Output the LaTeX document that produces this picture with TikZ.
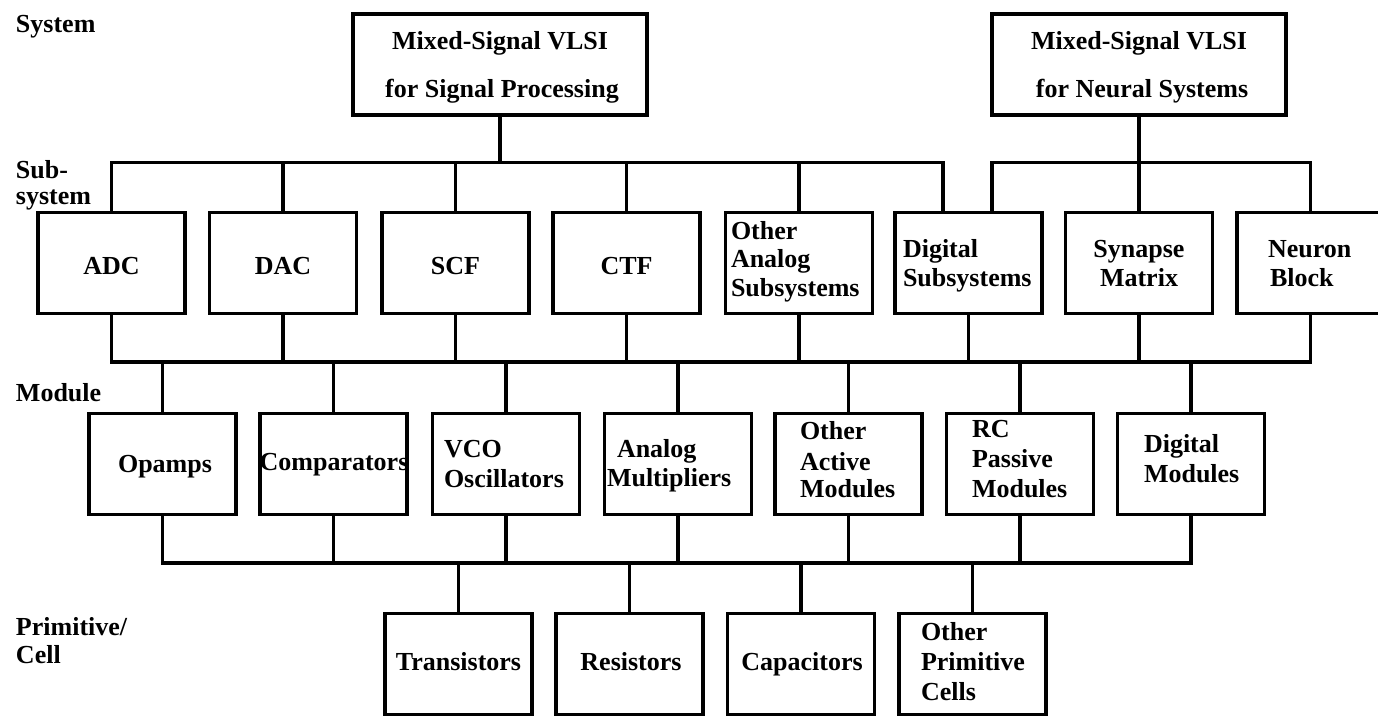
\documentclass[tikz,border=0pt]{standalone}
\usepackage{fontspec}
\setmainfont{Liberation Serif}
\begin{document}
\begin{tikzpicture}[x=0.75pt,y=-0.75pt,
  every node/.style={font=\fontsize{19.5}{21.75}\selectfont\bfseries, inner sep=0pt, outer sep=0pt},
  blk/.style={draw, line width=2.8pt, minimum width=110.25pt, minimum height=75.75pt},
  topblk/.style={blk, minimum width=221pt},
  wire/.style={line width=2.8pt},
  txt/.style={anchor=base west, align=left},
  ctxt/.style={anchor=base, align=center}]
\useasboundingbox (0,0) rectangle (1378,723);

% level names
\node[txt] (lsys) at (16,33) {System};
\node[txt] (lsub1) at (16,179) {Sub-};
\node[txt] (lsub2) at (16,205) {system};
\node[txt] (lmod) at (16,402) {Module};
\node[txt] (lprim1) at (16,635) {Primitive/};
\node[txt] (lprim2) at (16,663) {Cell};

% system level
\node[topblk] (sp) at (500,64.5) {};
\node[ctxt] (spa) at (500,50) {Mixed-Signal VLSI};
\node[ctxt] (spb) at (502,98) {for Signal Processing};
\node[topblk] (ns) at (1139,64.5) {};
\node[ctxt] (nsa) at (1139,50) {Mixed-Signal VLSI};
\node[ctxt] (nsb) at (1142,98) {for Neural Systems};

% subsystem level
\node[blk] (adc) at (111.5,263) {};
\node[blk] (dac) at (283,263) {};
\node[blk] (scf) at (455.5,263) {};
\node[blk] (ctf) at (626.5,263) {};
\node[blk] (oas) at (799,263) {};
\node[blk] (dsub) at (968.5,263) {};
\node[blk] (syn) at (1139,263) {};
\node[blk] (neu) at (1310.5,263) {};
\node[ctxt] (adcT) at (111.5,275) {ADC};
\node[ctxt] (dacT) at (283,275) {DAC};
\node[ctxt] (scfT) at (455.5,275) {SCF};
\node[ctxt] (ctfT) at (626.5,275) {CTF};
\node[txt] (oasT1) at (731,240) {Other};
\node[txt] (oasT2) at (731,268) {Analog};
\node[txt] (oasT3) at (731,297) {Subsystems};
\node[txt] (dsubT1) at (903,258) {Digital};
\node[txt] (dsubT2) at (903,287) {Subsystems};
\node[ctxt] (synT1) at (1139,258) {Synapse};
\node[ctxt] (synT2) at (1139,287) {Matrix};
\node[txt] (neuT1) at (1268,258) {Neuron};
\node[txt] (neuT2) at (1270,287) {Block};

% module level
\node[blk] (opa) at (162.5,464) {};
\node[blk] (cmp) at (333.5,464) {};
\node[blk] (vco) at (506,464) {};
\node[blk] (amu) at (678,464) {};
\node[blk] (oam) at (848.5,464) {};
\node[blk] (rcp) at (1020,464) {};
\node[blk] (dmo) at (1191,464) {};
\node[ctxt] (opaT) at (165,473) {Opamps};
\node[ctxt] (cmpT) at (334,470) {Comparators};
\node[txt] (vcoT1) at (444,458) {VCO};
\node[txt] (vcoT2) at (444,488) {Oscillators};
\node[txt] (amuT1) at (617,458) {Analog};
\node[txt] (amuT2) at (607,486) {Multipliers};
\node[txt] (oamT1) at (800,440) {Other};
\node[txt] (oamT2) at (800,470) {Active};
\node[txt] (oamT3) at (800,498) {Modules};
\node[txt] (rcpT1) at (972,438) {RC};
\node[txt] (rcpT2) at (972,468) {Passive};
\node[txt] (rcpT3) at (972,497) {Modules};
\node[txt] (dmoT1) at (1144,452) {Digital};
\node[txt] (dmoT2) at (1144,482) {Modules};

% primitive / cell level
\node[blk] (tra) at (458.5,664) {};
\node[blk] (res) at (629.5,664) {};
\node[blk] (cap) at (801,664) {};
\node[blk] (opc) at (972.5,664) {};
\node[ctxt] (traT) at (458.5,670) {Transistors};
\node[ctxt] (resT) at (631,670) {Resistors};
\node[ctxt] (capT) at (802,670) {Capacitors};
\node[txt] (opcT1) at (921,640) {Other};
\node[txt] (opcT2) at (921,670) {Primitive};
\node[txt] (opcT3) at (921,700) {Cells};

% taps on the digital subsystem block
\coordinate (dsubL) at ([xshift=-19pt]dsub.north);
\coordinate (dsubR) at ([xshift=17.5pt]dsub.north);

% system -> subsystem trees
\draw[wire] (sp.south) -- ++(0,48);
\draw[wire] (adc.north) -- ++(0,-50) -| (dsubL);
\foreach \n in {dac,scf,ctf,oas}
  \draw[wire] (\n.north) -- ++(0,-50);
\draw[wire] (ns.south) -- (syn.north);
\draw[wire] (dsubR) -- ++(0,-50) -| (neu.north);

% subsystem -> module bus
\draw[wire] (adc.south) -- ++(0,48.5) -| (neu.south);
\foreach \n in {dac,scf,ctf,oas,dsub,syn}
  \draw[wire] (\n.south) -- ++(0,48.5);
\foreach \n in {opa,cmp,vco,amu,oam,rcp,dmo}
  \draw[wire] (\n.north) -- ++(0,-52);

% module -> primitive bus
\draw[wire] (opa.south) -- ++(0,48.5) -| (dmo.south);
\foreach \n in {cmp,vco,amu,oam,rcp}
  \draw[wire] (\n.south) -- ++(0,48.5);
\foreach \n in {tra,res,cap,opc}
  \draw[wire] (\n.north) -- ++(0,-51);
\end{tikzpicture}
\end{document}
